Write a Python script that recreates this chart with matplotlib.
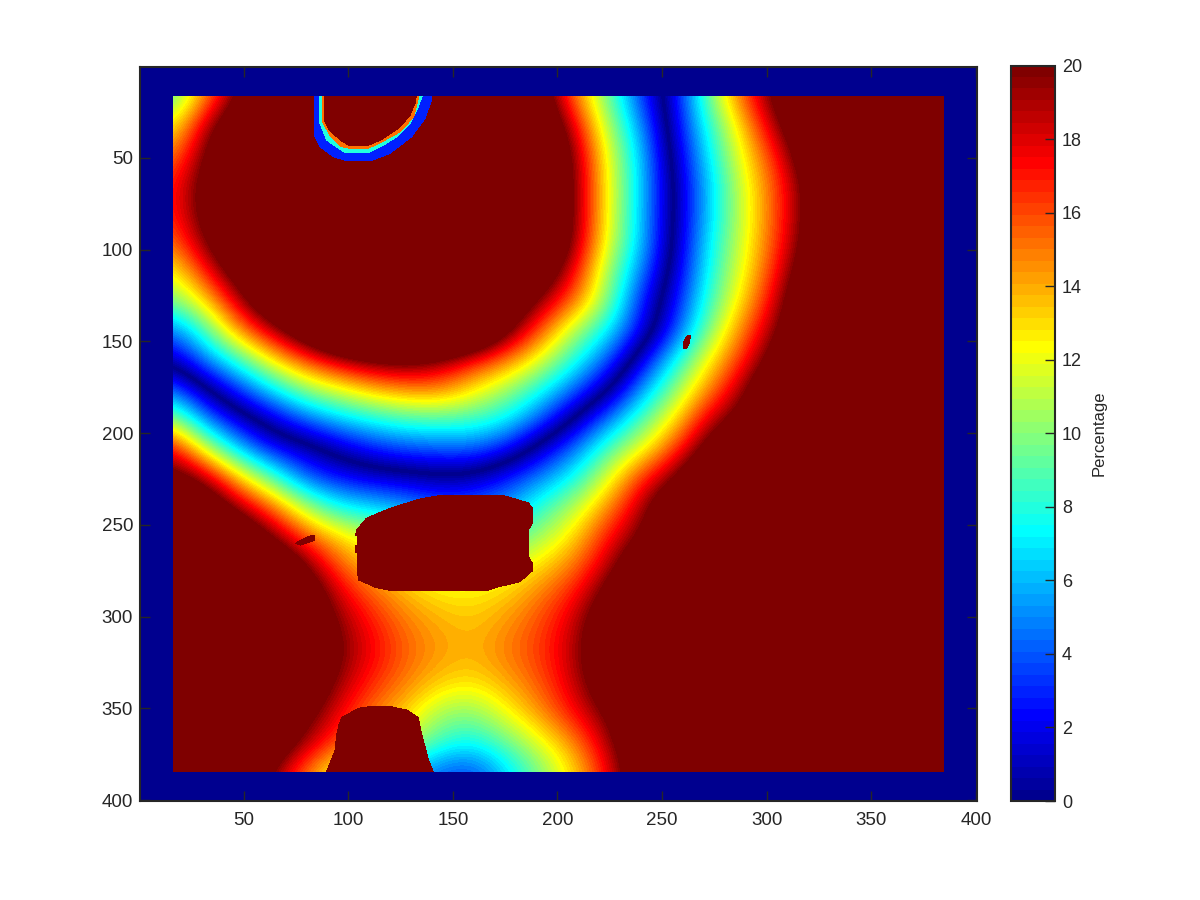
import matplotlib
matplotlib.use('Agg')
import matplotlib.pyplot as plt
from matplotlib.cm import ScalarMappable
from matplotlib.colors import LinearSegmentedColormap, ListedColormap, Normalize
from matplotlib.patches import Rectangle
import numpy as np

plt.rcParams['font.family'] = ['Liberation Sans', 'DejaVu Sans']

# values on a coarse grid, above 20 just means saturated.
# sign = which side of the dark valley, the colour only depends on the size
grid_x = [16, 32, 48, 64, 80, 96, 112, 128, 144, 160, 176, 192, 208, 224, 240, 256, 272, 288, 304, 320, 336, 352, 368, 384]
grid_y = grid_x
pct_rows = [
    [8.5, 14.5, 20, 25.5, 30, 30, 30, 30, 30, 30, 28, 22, 15, 9.5, 3.5, -2, -9.5, -15.5, -20.8, -26.5, -30, -30, -30, -30],
    [12, 18.3, 23.5, 29, 30, 30, 30, 30, 30, 30, 30, 24.5, 17.7, 10.8, 5.3, -1.7, -8, -13.3, -19, -24.5, -30, -30, -30, -30],
    [14.5, 20, 25.5, 30, 30, 30, 30, 30, 30, 30, 30, 26, 19.5, 11.9, 6.3, -1, -7, -12.3, -16.8, -22.8, -28.5, -30, -30, -30],
    [16.5, 21, 26.5, 30, 30, 30, 30, 30, 30, 30, 30, 26.5, 19.8, 12.3, 6.5, -0.4, -6.3, -11.5, -15.8, -21, -27, -30, -30, -30],
    [16.5, 21, 26.5, 30, 30, 30, 30, 30, 30, 30, 30, 26.5, 19.8, 12.3, 6.3, -0.4, -6.3, -11.3, -15.7, -21, -26.5, -30, -30, -30],
    [15, 19.7, 25, 30, 30, 30, 30, 30, 30, 30, 30, 26, 19.5, 11.9, 6.3, -0.5, -7, -11.5, -16, -21.3, -27, -30, -30, -30],
    [12, 16.8, 22, 27.5, 30, 30, 30, 30, 30, 30, 28, 23, 17.5, 10.5, 5, -1.2, -7.5, -12, -16.8, -22.7, -28, -30, -30, -30],
    [9.5, 13, 18.5, 24, 29.5, 30, 30, 30, 30, 29.5, 24, 19.3, 15.3, 10, 3, -2.2, -8.3, -13, -18, -24.5, -30, -30, -30, -30],
    [4.5, 8.7, 14.5, 18.5, 23, 28, 30, 30, 30, 27, 20.7, 15.7, 10.8, 7.3, 2.3, -3.5, -9.7, -14.8, -19.5, -25, -30, -30, -30, -30],
    [0.7, 5, 8.5, 12.8, 16, 18.5, 20.3, 20.8, 19.5, 17, 15, 11.8, 8, 4.2, -1.5, -7.3, -12.3, -16.5, -21.5, -27, -30, -30, -30, -30],
    [-4.5, -0.3, 3.5, 7, 10.3, 12, 13.8, 14.8, 15, 12.8, 10.5, 7.8, 4.5, 0.5, -5.3, -10, -14.5, -19, -24.5, -30, -30, -30, -30, -30],
    [-10.7, -4.8, -1.3, 1.6, 4.5, 6.5, 7.8, 8.8, 9, 8.7, 7.5, 4.3, 0, -4.6, -8.7, -12.6, -18, -21, -26.5, -30, -30, -30, -30, -30],
    [-17.7, -11.3, -6, -2.3, -1, 1.2, 3, 4, 4.3, 4.5, 2.8, -1, -4.5, -8.7, -11.7, -16, -21, -26, -30, -30, -30, -30, -30, -30],
    [-21.5, -18.8, -13.3, -8.8, -4, -2.5, -1.5, -1, -0.5, -0.8, -2.8, -5, -7.5, -11.6, -16.4, -19.7, -25, -30, -30, -30, -30, -30, -30, -30],
    [-27, -23.5, -18.8, -15.3, -10.7, -7.3, -6.5, -5.5, -4, -4.5, -5.5, -8.2, -10.8, -14.5, -18.7, -24, -29, -30, -30, -30, -30, -30, -30, -30],
    [-30, -29, -24.3, -19.5, -15.7, -13, -11.5, -9.5, -8.5, -8, -8.5, -10.5, -13, -17, -20, -25.5, -30, -30, -30, -30, -30, -30, -30, -30],
    [-30, -30, -29.5, -25, -20, -15.5, -13.3, -12, -11, -11, -11.5, -13, -15, -18.5, -23.5, -28.5, -30, -30, -30, -30, -30, -30, -30, -30],
    [-30, -30, -30, -28, -23, -18, -15.5, -13.8, -12.8, -12.7, -13.3, -15, -17, -21, -26, -30, -30, -30, -30, -30, -30, -30, -30, -30],
    [-30, -30, -30, -29, -24, -19.5, -17, -15, -14, -13.5, -14.5, -16, -18.3, -23, -28, -30, -30, -30, -30, -30, -30, -30, -30, -30],
    [-30, -30, -30, -29.5, -25, -20, -17.5, -15.5, -14.3, -13.8, -15, -16.3, -18.7, -23.5, -28.5, -30, -30, -30, -30, -30, -30, -30, -30, -30],
    [-30, -30, -30, -28, -23.5, -19, -16.5, -14.8, -13.3, -12.8, -14, -15.7, -18.3, -22.5, -27.5, -30, -30, -30, -30, -30, -30, -30, -30, -30],
    [-30, -30, -30, -25, -21, -17.5, -15, -13.3, -10.5, -10, -12.3, -14.5, -17.3, -20.2, -25, -30, -30, -30, -30, -30, -30, -30, -30, -30],
    [-30, -30, -28, -23.5, -19, -16, -14, -11.5, -8.5, -7.5, -9.5, -12, -14.7, -18.8, -24, -29, -30, -30, -30, -30, -30, -30, -30, -30],
    [-30, -30, -25, -19.5, -15, -11.5, -9, -6, -4, -3.5, -6.5, -9.8, -13, -17.3, -23, -28, -30, -30, -30, -30, -30, -30, -30, -30],
]

# saturated blobs
center_blob_x = [104, 108.8, 120, 134, 144, 174, 186, 188, 188, 186, 186, 188, 188, 182, 171, 166, 121, 113, 105, 104.5, 104.5, 103.5, 103.5, 104.5, 104.5, 103.5]
center_blob_y = [253, 246.4, 241, 236, 234, 234, 238, 241, 249, 253, 267, 271, 275, 281, 284, 286, 286, 284, 280, 276, 265, 265, 261, 261, 256, 256]
bottom_blob_x = [89.7, 91.3, 93.7, 94.5, 95.6, 97, 105, 110.6, 120, 128, 133.5, 135, 137, 138, 140.6]
bottom_blob_y = [384.5, 380, 373, 364.5, 359, 355, 350, 349, 349, 351, 355, 364, 372, 377, 384.5]
spot_left_x = [75, 78, 82, 84, 84, 80, 77]
spot_left_y = [260, 258, 256, 256, 258.5, 260, 261]
spot_right_x = [260, 260.5, 262, 263.5, 263, 261.5]
spot_right_y = [154, 150, 147, 147, 151, 154]

# crescent at the top, outermost layer first
notch_levels = [3, 8, 15, 20]
notch_x = [
    [83.7, 83.7, 86.5, 92.9, 99.3, 111.2, 120, 130.3, 136.7, 139.6, 139.6],
    [86.5, 86.5, 89.7, 95.3, 98.5, 109.7, 116.9, 123.3, 129.7, 132.9, 135.3],
    [87.6, 87.6, 91.2, 96.8, 100.8, 109.7, 117.7, 124.9, 131.3, 133.7],
    [88.7, 88.7, 91, 97, 101, 109, 116, 124, 129.5, 132, 132.5],
]
notch_y = [
    [16.5, 37.6, 43.9, 49.4, 51.5, 51.5, 47.5, 38.5, 28.5, 19.4, 16.5],
    [16.5, 31.2, 40.3, 44.8, 47.2, 47.2, 43, 38.5, 31.2, 23.9, 16.5],
    [16.5, 30.3, 37.6, 43.9, 44.8, 44.8, 40.3, 35.8, 27.6, 16.5],
    [16.5, 30, 35, 41, 43.5, 43.5, 40, 34, 27, 20, 16.5],
]

x_ticks = [50, 100, 150, 200, 250, 300, 350, 400]
y_ticks = [50, 100, 150, 200, 250, 300, 350, 400]
cbar_ticks = [0, 2, 4, 6, 8, 10, 12, 14, 16, 18, 20]

axis_color = '#262626'

# old matlab jet, 64 steps
jet64 = LinearSegmentedColormap.from_list('jet64', [
    (0, (0, 0, 0.5625)),
    (7 / 63, (0, 0, 1)),
    (23 / 63, (0, 1, 1)),
    (39 / 63, (1, 1, 0)),
    (55 / 63, (1, 0, 0)),
    (1, (0.5, 0, 0)),
], N=64)
norm = Normalize(0, 20)
# same colours mirrored around zero for the signed table
steps = [jet64(i) for i in range(64)]
jet_mirror = ListedColormap(steps[::-1] + steps)

fig = plt.figure(figsize=(12, 9), dpi=100)
ax = fig.add_axes([140 / 1200, 1 - 801 / 900, 837 / 1200, 734 / 900])
ax.set_facecolor(jet64(0))

half = (grid_x[1] - grid_x[0]) / 2
im = ax.imshow(np.array(pct_rows), cmap=jet_mirror, norm=Normalize(-20, 20), aspect='auto',
               interpolation='bicubic', interpolation_stage='data',
               extent=(grid_x[0] - half, grid_x[-1] + half, grid_y[-1] + half, grid_y[0] - half))
im.set_clip_path(Rectangle((16.5, 16.5), 368, 368, transform=ax.transData))

dark_red = jet64(norm(20))
for bx, by in [(center_blob_x, center_blob_y), (bottom_blob_x, bottom_blob_y),
               (spot_left_x, spot_left_y), (spot_right_x, spot_right_y)]:
    ax.fill(bx, by, color=dark_red, linewidth=0, antialiased=False)
for lev, nx, ny in zip(notch_levels, notch_x, notch_y):
    ax.fill(nx, ny, color=jet64(norm(lev)), linewidth=0, antialiased=False)

ax.set_xlim(0.5, 400.5)
ax.set_ylim(400.5, 0.5)
ax.set_xticks(x_ticks)
ax.set_yticks(y_ticks)
ax.tick_params(which='major', direction='in', length=7.5, width=1, color=axis_color,
               labelcolor=axis_color, labelsize=13.5, top=True, right=True, pad=5)
ax.tick_params(axis='x', pad=8)
for side in ['top', 'bottom', 'left', 'right']:
    ax.spines[side].set_linewidth(1.5)
    ax.spines[side].set_color(axis_color)

cax = fig.add_axes([1011 / 1200, 1 - 801 / 900, 44 / 1200, 735.5 / 900])
cbar = fig.colorbar(ScalarMappable(norm=norm, cmap=jet64), cax=cax)
cbar.set_ticks(cbar_ticks)
cbar.ax.tick_params(direction='in', length=7, width=1, color=axis_color,
                    labelcolor=axis_color, labelsize=13, pad=5)
cbar.outline.set_linewidth(1.5)
cbar.outline.set_edgecolor(axis_color)
cbar.set_label('Percentage', fontsize=12, color=axis_color, labelpad=7)

plt.savefig('out.png', dpi=100)
